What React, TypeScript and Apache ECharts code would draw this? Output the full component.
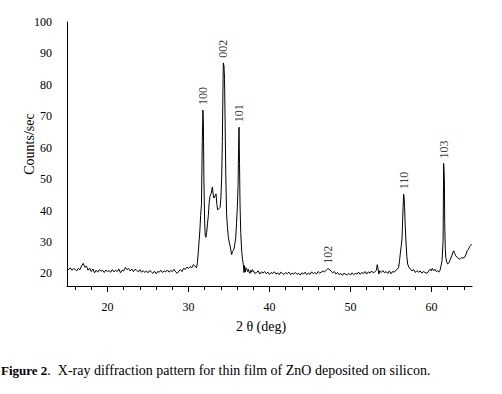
import React, { useEffect, useRef } from "react";
import * as echarts from "echarts";

const twoTheta = [
  15.0, 15.2, 15.4, 15.6, 15.8, 16.0, 16.2, 16.4, 16.6, 16.8, 17.0, 17.2, 17.4, 17.6, 17.8, 18.0, 18.2, 18.4, 18.6, 18.8,
  19.0, 19.2, 19.4, 19.6, 19.8, 20.0, 20.2, 20.4, 20.6, 20.8, 21.0, 21.2, 21.4, 21.6, 21.8, 22.0, 22.2, 22.4, 22.6, 22.8,
  23.0, 23.2, 23.4, 23.6, 23.8, 24.0, 24.2, 24.4, 24.6, 24.8, 25.0, 25.2, 25.4, 25.6, 25.8, 26.0, 26.2, 26.4, 26.6, 26.8,
  27.0, 27.2, 27.4, 27.6, 27.8, 28.0, 28.2, 28.4, 28.6, 28.8, 29.0, 29.2, 29.4, 29.6, 29.8, 30.0, 30.2, 30.4, 30.6, 30.8,
  31.0, 31.1, 31.2, 31.3, 31.4, 31.5, 31.6, 31.7, 31.78, 31.84, 31.9, 32.0, 32.07, 32.15, 32.24, 32.35, 32.45, 32.55, 32.65, 32.8,
  32.95, 33.05, 33.15, 33.3, 33.4, 33.5, 33.6, 33.75, 33.9, 34.0, 34.1, 34.18, 34.25, 34.3, 34.38, 34.45, 34.52, 34.6, 34.7, 34.8,
  34.92, 35.02, 35.12, 35.22, 35.33, 35.43, 35.53, 35.63, 35.73, 35.83, 35.93, 36.03, 36.12, 36.18, 36.24, 36.3, 36.36, 36.45, 36.57, 36.67,
  36.77, 36.85, 36.92, 37.0, 37.1, 37.18, 37.3, 37.4, 37.5, 37.6, 37.7, 37.8, 37.9, 38.0, 38.2, 38.4, 38.6, 38.8, 39.0, 39.2,
  39.4, 39.6, 39.8, 40.0, 40.2, 40.4, 40.6, 40.8, 41.0, 41.2, 41.4, 41.6, 41.8, 42.0, 42.2, 42.4, 42.6, 42.8, 43.0, 43.2,
  43.4, 43.6, 43.8, 44.0, 44.2, 44.4, 44.6, 44.8, 45.0, 45.2, 45.4, 45.6, 45.8, 46.0, 46.2, 46.4, 46.6, 46.8, 47.0, 47.2,
  47.4, 47.6, 47.8, 48.0, 48.2, 48.4, 48.6, 48.8, 49.0, 49.2, 49.4, 49.6, 49.8, 50.0, 50.2, 50.4, 50.6, 50.8, 51.0, 51.2,
  51.4, 51.6, 51.8, 52.0, 52.2, 52.4, 52.6, 52.8, 53.0, 53.2, 53.3, 53.4, 53.5, 53.6, 53.8, 54.0, 54.2, 54.4, 54.6, 54.8,
  55.0, 55.2, 55.4, 55.6, 55.8, 55.95, 56.05, 56.15, 56.25, 56.36, 56.45, 56.56, 56.62, 56.68, 56.76, 56.85, 56.95, 57.06, 57.2, 57.39,
  57.6, 57.8, 58.0, 58.2, 58.4, 58.6, 58.8, 59.0, 59.2, 59.45, 59.65, 59.86, 60.0, 60.1, 60.27, 60.45, 60.6, 60.75, 60.9, 61.05,
  61.18, 61.3, 61.43, 61.5, 61.56, 61.6, 61.63, 61.7, 61.76, 61.9, 62.0, 62.13, 62.25, 62.34, 62.5, 62.65, 62.75, 62.85, 63.0, 63.16,
  63.3, 63.45, 63.57, 63.75, 63.9, 64.07, 64.25, 64.4, 64.55, 64.7, 64.8, 64.95,
];

const counts = [
  21.6, 21.2, 21.8, 21.0, 21.5, 21.3, 20.8, 21.6, 21.2, 22.4, 23.2, 22.0, 22.3, 21.0, 21.7, 20.6, 21.4, 20.2, 21.0, 20.4,
  21.2, 20.7, 21.0, 20.3, 21.1, 20.6, 20.9, 20.4, 21.2, 20.5, 21.0, 20.6, 21.4, 20.2, 21.0, 20.8, 21.9, 21.2, 21.6, 20.8,
  21.4, 20.6, 21.3, 21.0, 20.5, 21.2, 20.4, 20.9, 20.3, 20.8, 20.2, 20.9, 20.5, 20.0, 20.7, 19.9, 20.6, 20.4, 21.0, 20.3,
  20.8, 20.5, 21.1, 20.4, 20.9, 20.6, 21.3, 20.5, 20.0, 20.7, 21.2, 20.6, 21.6, 21.3, 22.0, 21.6, 22.2, 21.8, 22.8, 22.3,
  21.8, 23.5, 26.5, 30.0, 33.5, 38.5, 42.0, 62.0, 72.0, 67.5, 50.0, 36.0, 32.0, 31.5, 33.0, 36.0, 38.5, 42.5, 44.5, 45.5,
  47.5, 45.0, 44.0, 44.8, 45.3, 42.0, 40.2, 40.6, 41.0, 44.0, 51.0, 62.0, 78.0, 87.0, 86.0, 82.0, 68.0, 52.0, 39.0, 35.0,
  31.5, 30.0, 29.0, 27.5, 26.0, 27.0, 27.3, 28.0, 29.5, 31.5, 36.0, 41.0, 48.0, 60.0, 66.5, 55.0, 42.0, 33.0, 27.0, 24.5,
  22.8, 20.3, 22.5, 20.4, 21.8, 21.5, 20.6, 21.3, 20.2, 20.0, 21.0, 20.4, 21.2, 20.8, 20.0, 20.3, 20.8, 19.8, 20.5, 20.1,
  20.6, 19.9, 20.4, 19.7, 20.3, 20.0, 20.5, 19.8, 20.2, 19.6, 20.4, 20.0, 19.7, 20.3, 19.9, 20.4, 19.6, 20.1, 19.8, 20.3,
  19.7, 20.0, 19.5, 20.2, 19.8, 20.4, 19.6, 20.1, 19.7, 20.5, 19.9, 20.3, 19.8, 20.6, 20.1, 20.4, 20.8, 20.5, 21.0, 21.5,
  21.3, 20.7, 20.2, 20.6, 19.8, 20.3, 19.6, 20.0, 19.4, 20.1, 19.7, 19.5, 20.0, 19.5, 20.2, 19.6, 20.0, 19.8, 20.4, 19.7,
  20.3, 20.0, 20.6, 19.8, 20.5, 20.1, 20.8, 20.2, 20.5, 21.0, 22.8, 21.5, 19.8, 20.8, 20.3, 20.9, 20.2, 20.6, 20.0, 20.8,
  19.9, 20.6, 20.4, 21.0, 21.4, 22.0, 24.0, 26.3, 28.5, 31.0, 38.0, 45.2, 44.0, 41.0, 35.0, 30.0, 25.5, 23.0, 22.0, 21.4,
  20.8, 21.2, 20.3, 20.9, 20.4, 20.8, 20.1, 20.6, 20.3, 20.0, 20.8, 21.4, 20.8, 21.6, 20.9, 21.3, 20.6, 20.9, 20.4, 21.0,
  22.5, 24.0, 30.4, 55.0, 52.0, 48.0, 36.0, 28.0, 25.1, 23.5, 23.0, 23.3, 24.0, 24.6, 25.6, 26.8, 27.2, 26.4, 25.6, 25.1,
  24.8, 24.6, 24.7, 25.0, 24.9, 25.1, 26.0, 27.2, 27.6, 28.5, 28.8, 29.3,
];

const peakNames = ["100", "002", "101", "102", "110", "103"];
const peakTheta = [31.78, 34.3, 36.24, 47.25, 56.56, 61.5];
const peakCounts = [72.0, 87.0, 66.5, 21.5, 45.2, 55.0];

const xTickValues: string[] = [];
for (let v = 15; v <= 65; v++) xTickValues.push(String(v));
const yTickValues: string[] = [];
for (let v = 16; v <= 100; v++) yTickValues.push(String(v));

const FONT = "Liberation Serif";

export default function App() {
  const ref = useRef<HTMLDivElement>(null);
  useEffect(() => {
    document.body.style.margin = "0";
    const chart = echarts.init(ref.current!, undefined, { renderer: "svg" });
    const grid = { left: 67, top: 22, width: 405, height: 264 };
    chart.setOption({
      animation: false,
      backgroundColor: "#fff",
      textStyle: { fontFamily: FONT, color: "#000" },
      grid,
      xAxis: [
        {
          type: "value",
          min: 15,
          max: 65,
          position: "bottom",
          axisLine: { show: true, lineStyle: { color: "#000", width: 1 } },
          axisTick: { show: false },
          axisLabel: { show: false },
          splitLine: { show: false },
        },
        {
          type: "category",
          data: xTickValues,
          boundaryGap: false,
          position: "bottom",
          axisLine: { show: false },
          axisTick: {
            show: true,
            length: 4,
            interval: (i: number, v: string) => Number(v) % 2 === 0,
            lineStyle: { color: "#000" },
          },
          axisLabel: { show: false },
          splitLine: { show: false },
        },
        {
          type: "category",
          data: xTickValues,
          boundaryGap: false,
          position: "bottom",
          axisLine: { show: false },
          axisTick: {
            show: true,
            length: 6,
            interval: (i: number, v: string) => Number(v) % 10 === 0,
            lineStyle: { color: "#000" },
          },
          axisLabel: {
            show: true,
            interval: (i: number, v: string) => Number(v) % 10 === 0,
            fontFamily: FONT,
            fontSize: 12,
            color: "#000",
            margin: 15,
          },
          splitLine: { show: false },
        },
      ],
      yAxis: [
        {
          type: "value",
          min: 16,
          max: 100,
          axisLine: { show: true, lineStyle: { color: "#000", width: 1 } },
          axisTick: { show: false },
          axisLabel: { show: false },
          splitLine: { show: false },
        },
        {
          type: "category",
          data: yTickValues,
          boundaryGap: false,
          position: "left",
          axisLine: { show: false },
          axisTick: { show: false },
          axisLabel: {
            show: true,
            interval: (i: number, v: string) => Number(v) % 10 === 0,
            fontFamily: FONT,
            fontSize: 12,
            color: "#000",
            margin: 15,
          },
          splitLine: { show: false },
        },
      ],
      series: [
        {
          type: "line",
          data: twoTheta.map((t, i) => [t, counts[i]]),
          showSymbol: false,
          symbol: "none",
          lineStyle: { color: "#000", width: 1 },
          xAxisIndex: 0,
          yAxisIndex: 0,
        },
        {
          type: "scatter",
          symbolSize: 0,
          xAxisIndex: 0,
          yAxisIndex: 0,
          data: peakNames.map((n, i) => ({ name: n, value: [peakTheta[i], peakCounts[i]] })),
          label: {
            show: true,
            position: "top",
            distance: 5,
            rotate: 90,
            align: "left",
            verticalAlign: "middle",
            formatter: (p: any) => p.name,
            fontFamily: FONT,
            fontSize: 12,
            color: "#000",
          },
        },
      ],
      graphic: [
        {
          type: "text",
          x: 29,
          y: 144,
          rotation: Math.PI / 2,
          style: {
            text: "Counts/sec",
            fontFamily: FONT,
            fontSize: 14,
            fill: "#000",
            align: "center",
            verticalAlign: "middle",
          },
        },
        {
          type: "text",
          x: 261,
          y: 326,
          style: {
            text: "2 θ (deg)",
            fontFamily: FONT,
            fontSize: 14,
            fill: "#000",
            align: "center",
            verticalAlign: "middle",
          },
        },
        {
          type: "text",
          x: 1,
          y: 370,
          style: {
            text: "{b|Figure 2}{n|.  X-ray diffraction pattern for thin film of ZnO deposited on silicon.}",
            fontFamily: FONT,
            fontSize: 14,
            fill: "#000",
            align: "left",
            verticalAlign: "middle",
            rich: {
              b: { fontWeight: "bold", fontFamily: FONT, fontSize: 13, fill: "#000" },
              n: { fontFamily: FONT, fontSize: 14, fill: "#000" },
            },
          },
        },
      ],
    });
    return () => chart.dispose();
  }, []);
  return <div ref={ref} style={{ position: "absolute", left: 0, top: 0, width: 502, height: 394 }} />;
}
